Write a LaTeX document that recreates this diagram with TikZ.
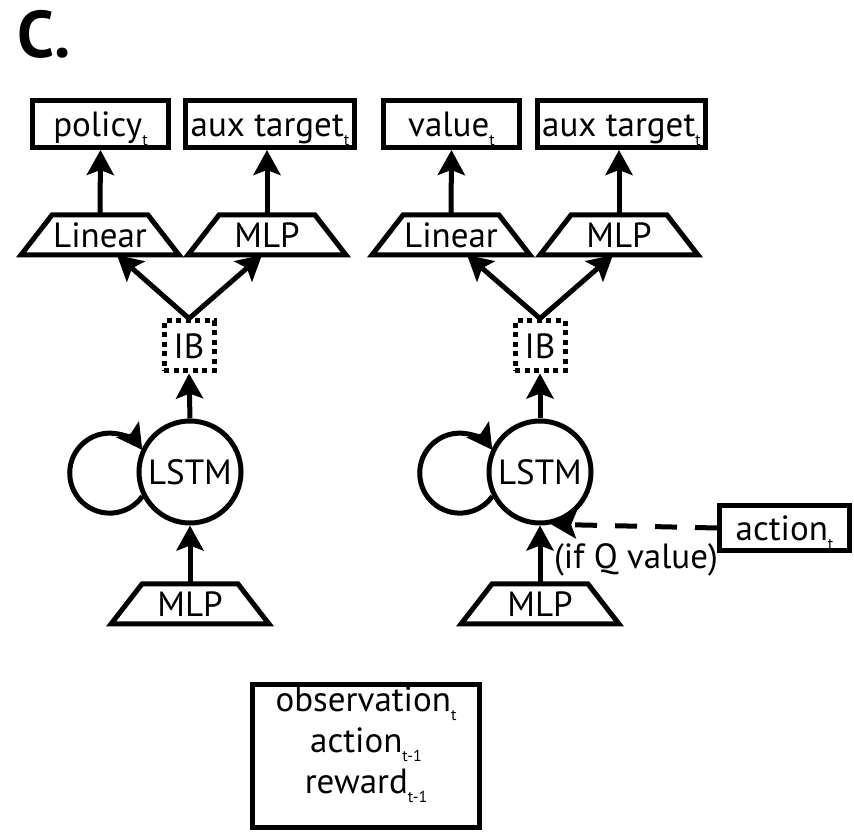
\documentclass[tikz,border=0pt]{standalone}
\usepackage{fontspec}
\setmainfont{PT Sans}
\usetikzlibrary{arrows.meta}
% small lowered index after a word (t, t-1)
\newcommand{\lowsub}[1]{\raisebox{-9pt}{\fontsize{16}{16}\selectfont #1}}
% outline of a trapezoid layer drawn on the border of its node
\newcommand{\traplayer}[1]{\draw[line width=5pt, line join=miter]
  (#1.south west) -- (#1.south east) -- ([xshift=-31pt]#1.north east)
  -- ([xshift=31pt]#1.north west) -- cycle;}
\begin{document}
\begin{tikzpicture}[x=1pt,y=1pt,
  txt/.style={font=\fontsize{35}{41}\selectfont},
  outbox/.style={txt, draw, line width=5pt, inner sep=0pt, minimum height=47pt,
    text height=25pt, text depth=0pt},
  traplay/.style={txt, line width=5pt, outer sep=0pt, inner sep=0pt,
    minimum width=158pt, minimum height=40pt, text height=25pt, text depth=0pt},
  ibbox/.style={txt, draw, line width=5pt, dash pattern=on 5pt off 4.5pt,
    minimum size=50pt, inner sep=0pt, text height=25pt, text depth=0pt},
  cell/.style={txt, draw, circle, line width=5pt, minimum size=102pt, inner sep=0pt,
    text height=25pt, text depth=0pt},
  arr/.style={line width=5pt, -{Stealth[length=25pt,width=27pt,inset=5pt]}},
  dasharr/.style={arr, dash pattern=on 22pt off 18pt}
]
\useasboundingbox (0,0) rectangle (854,832);

% panel letter
\node[font=\fontsize{66}{66}\selectfont\bfseries, anchor=base west, inner sep=0pt]
  (title) at (17,774) {C.};

% outputs
\node[outbox, minimum width=136pt] (pol)  at (100.5,708) {policy\lowsub{t}};
\node[outbox, minimum width=169pt] (auxl) at (270,708)   {aux target\lowsub{t}};
\node[outbox, minimum width=136pt] (val)  at (451.5,708) {value\lowsub{t}};
\node[outbox, minimum width=168pt] (auxr) at (621.5,708) {aux target\lowsub{t}};

% heads
\node[traplay] (lin1) at (100,597) {Linear};
\node[traplay] (mlp1) at (267,597) {MLP};
\node[traplay] (lin2) at (451,597) {Linear};
\node[traplay] (mlp2) at (619,597) {MLP};
\traplayer{lin1}\traplayer{mlp1}\traplayer{lin2}\traplayer{mlp2}

% information bottlenecks
\node[ibbox] (ib1) at (189,486) {IB};
\node[ibbox] (ib2) at (540,486) {IB};

% recurrent cores
\node[cell] (lstm1) at (190,360) {LSTM};
\node[cell] (lstm2) at (540,360) {LSTM};

% input encoders
\node[traplay] (enc1) at (190,228) {MLP};
\node[traplay] (enc2) at (540,228) {MLP};
\traplayer{enc1}\traplayer{enc2}

% optional action input
\node[outbox, minimum width=130pt, minimum height=45pt] (act) at (784.5,304) {action\lowsub{t}};
\node[txt, inner sep=0pt] (qnote) at (636,272) {(if Q value)};

% observation inputs
\node[draw, line width=5pt, minimum width=227pt, minimum height=143pt, inner sep=0pt]
  (obs) at (366,76) {};
\node[txt, align=center, anchor=north, inner sep=0pt] (obstext) at (366,145)
  {observation\lowsub{t}\\action\lowsub{t-1}\\reward\lowsub{t-1}};

% connectors
\draw[arr] (lin1.north) -- (pol.south);
\draw[arr] (mlp1.north) -- (mlp1.north |- auxl.south);
\draw[arr] (lin2.north) -- (val.south);
\draw[arr] (mlp2.north) -- (mlp2.north |- auxr.south);

\draw[arr] (ib1.north) -- ([xshift=17pt]lin1.south);
\draw[arr] (ib1.north) -- ([xshift=-5pt]mlp1.south);
\draw[arr] (ib2.north) -- ([xshift=16pt]lin2.south);
\draw[arr] (ib2.north) -- ([xshift=-6pt]mlp2.south);

\draw[arr] (lstm1.north) -- (ib1.south);
\draw[arr] (lstm2.north) -- (ib2.south);

\draw[arr] (enc1.north) -- (lstm1.south);
\draw[arr] (enc2.north) -- (lstm2.south);

% self loops on the cores
\draw[arr] (lstm1.207) arc[start angle=-35.4, end angle=-324.6, radius=40];
\draw[arr] (lstm2.207) arc[start angle=-35.4, end angle=-324.6, radius=40];

\draw[dasharr] (act.west) -- (lstm2.-78);
\end{tikzpicture}
\end{document}
